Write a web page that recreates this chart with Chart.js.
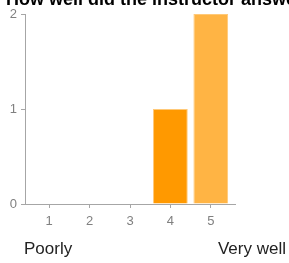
<!DOCTYPE html>
<html>
<head>
<meta charset="utf-8">
<script src="https://cdn.jsdelivr.net/npm/chart.js@4"></script>
<style>
  body { margin: 0; background: #fff; }
  #wrap { position: relative; width: 289px; height: 263px; overflow: hidden; font-family: "Liberation Sans", Arial, sans-serif; }
  #title { position: absolute; left: 6px; top: -10px; font-size: 18px; line-height: 18px; font-weight: bold; color: #000; white-space: nowrap; }
  .end { position: absolute; top: 240px; font-size: 17px; line-height: 17px; color: #222; white-space: nowrap; }
  #lo { left: 24px; }
  #hi { right: 3px; }
  canvas { position: absolute; left: 0; top: 0; }
</style>
</head>
<body>
<div id="wrap">
  <canvas id="chart" width="289" height="263"></canvas>
  <div id="title">How well did the instructor answer questions?</div>
  <div class="end" id="lo">Poorly</div>
  <div class="end" id="hi">Very well</div>
</div>
<script>
// rating scale and response counts
const ratings = [1, 2, 3, 4, 5];
const counts = [0, 0, 0, 1, 2];
const barColors = ['#ff9900', '#ff9900', '#ff9900', '#ff9900', '#ffb444'];
const yTicks = [0, 1, 2];

const axisGray = '#a6a6a6';
const tickFont = { family: 'Liberation Sans, Arial, sans-serif', size: 13 };

const ctx = document.getElementById('chart').getContext('2d');
new Chart(ctx, {
    type: 'bar',
    data: {
        datasets: [{
            label: 'Responses',
            data: ratings.map((r, i) => ({ x: r, y: counts[i] })),
            backgroundColor: barColors,
            borderColor: '#ffc978',
            borderWidth: 1,
            barPercentage: 0.86,
            categoryPercentage: 1
        }]
    },
    options: {
        responsive: false,
        animation: false,
        layout: { padding: { top: 14, right: 54, bottom: 0, left: 0 } },
        plugins: {
            legend: { display: false },
            tooltip: { enabled: false }
        },
        scales: {
            x: {
                type: 'linear',
                min: 0.4,
                max: 5.6,
                offset: false,
                afterFit: (s) => { s.height = 59; },
                afterBuildTicks: (s) => { s.ticks = ratings.map(v => ({ value: v })); },
                grid: { drawOnChartArea: false, drawTicks: true, tickLength: 4, color: axisGray, offset: false },
                border: { color: axisGray },
                ticks: { color: '#808080', font: tickFont, padding: 6, autoSkip: false }
            },
            y: {
                min: 0,
                max: 2,
                afterFit: (s) => { s.width = 25; },
                afterBuildTicks: (s) => { s.ticks = yTicks.map(v => ({ value: v })); },
                grid: { drawOnChartArea: false, drawTicks: true, tickLength: 4, color: axisGray },
                border: { color: axisGray },
                ticks: { color: '#808080', font: tickFont, padding: 4 }
            }
        }
    }
});
</script>
</body>
</html>
